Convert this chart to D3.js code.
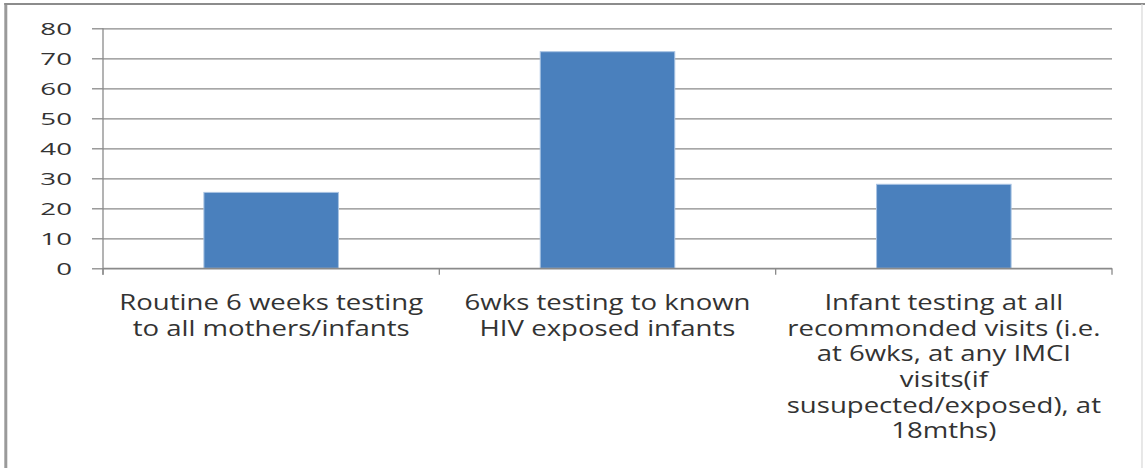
<!DOCTYPE html>
<html>
<head>
<meta charset="utf-8">
<script src="https://cdn.jsdelivr.net/npm/d3@7"></script>
<style>
  html, body { margin: 0; padding: 0; background: #fff; }
  svg { display: block; }
</style>
</head>
<body>
<script>
// ---- data ----
const categories = [
  "Routine 6 weeks testing to all mothers/infants",
  "6wks testing to known HIV exposed infants",
  "Infant testing at all recommonded visits (i.e. at 6wks, at any IMCI visits(if susupected/exposed), at 18mths)"
];
const categoryLines = [
  ["Routine 6 weeks testing", "to all mothers/infants"],
  ["6wks testing to known", "HIV exposed infants"],
  ["Infant testing at all", "recommonded visits (i.e.", "at 6wks, at any IMCI", "visits(if", "susupected/exposed), at", "18mths)"]
];
const values = [25.3, 72.2, 28];
const yTicks = [0, 10, 20, 30, 40, 50, 60, 70, 80];

// ---- layout ----
const W = 1145, H = 468;
const plot = { left: 103, right: 1112, top: 28.3, bottom: 268.3 };
const gridColor = "#8a8a8a";
const textColor = "#333333";

const svg = d3.select("body").append("svg").attr("width", W).attr("height", H);

// outer frame
svg.append("rect").attr("x", 0).attr("y", 0).attr("width", W).attr("height", H).attr("fill", "#fff");
svg.append("line").attr("x1", 5.8).attr("x2", 5.8).attr("y1", 3).attr("y2", H).attr("stroke", "#9a9a9a").attr("stroke-width", 3);
svg.append("line").attr("x1", 4.3).attr("x2", W).attr("y1", 4).attr("y2", 4).attr("stroke", "#8c8c8c").attr("stroke-width", 2);
svg.append("line").attr("x1", 1142).attr("x2", 1142).attr("y1", 4).attr("y2", H).attr("stroke", "#d8d8d8").attr("stroke-width", 1.2);

const y = d3.scaleLinear().domain([0, 80]).range([plot.bottom, plot.top]);
const x = d3.scaleBand().domain(categories).range([plot.left, plot.right])
  .paddingInner(0.6).paddingOuter(0.3);

// gridlines via axis
const gAxisY = svg.append("g").attr("transform", `translate(${plot.left},0)`)
  .call(d3.axisLeft(y).tickValues(yTicks).tickSize(11).tickFormat(d3.format("d")));
gAxisY.select(".domain").remove();
gAxisY.selectAll(".tick line").attr("stroke", gridColor).attr("stroke-width", 1.3)
  .attr("x1", 0).attr("x2", -11);
gAxisY.selectAll(".tick").append("line").attr("class", "grid")
  .attr("x1", 0).attr("x2", plot.right - plot.left)
  .attr("stroke", gridColor).attr("stroke-width", 1.3);

// tick labels (stretched horizontally)
const tickFont = 16.5;
gAxisY.selectAll(".tick text")
  .attr("font-family", "'Open Sans', sans-serif")
  .attr("font-size", tickFont)
  .attr("fill", textColor)
  .attr("x", 0).attr("dy", "0.36em");
let tickW = 1;
gAxisY.selectAll(".tick text").each(function(d) { if (d === 80) tickW = this.getComputedTextLength(); });
const tickSx = 31.7 / tickW;
gAxisY.selectAll(".tick text")
  .attr("transform", `translate(${72 - plot.left},0) scale(${tickSx},1)`);

// y axis line
svg.append("line").attr("x1", plot.left).attr("x2", plot.left)
  .attr("y1", plot.top).attr("y2", plot.bottom + 6.5)
  .attr("stroke", gridColor).attr("stroke-width", 1.3);

// bars
svg.append("g").selectAll("rect").data(values).join("rect")
  .attr("x", (d, i) => x(categories[i]))
  .attr("width", x.bandwidth())
  .attr("y", d => y(d))
  .attr("height", d => y(0) - y(d))
  .attr("fill", "#4a80bd")
  .attr("stroke", "#a9c3e3")
  .attr("stroke-width", 1);

// category boundary ticks
const step = x.step();
const bounds = d3.range(categories.length + 1).map(i => plot.left + i * step);
svg.append("g").selectAll("line").data(bounds).join("line")
  .attr("x1", d => d).attr("x2", d => d)
  .attr("y1", plot.bottom).attr("y2", plot.bottom + 6.5)
  .attr("stroke", gridColor).attr("stroke-width", 1.3);

// x axis line
svg.append("line").attr("x1", plot.left).attr("x2", plot.right)
  .attr("y1", plot.bottom).attr("y2", plot.bottom)
  .attr("stroke", gridColor).attr("stroke-width", 1.3);

// category labels
const labFont = 21;
const lineH = 25.7;
const firstBase = 310;
const labG = svg.append("g").selectAll("g").data(categoryLines).join("g")
  .attr("class", "catlab");
labG.each(function(lines, i) {
  const g = d3.select(this);
  lines.forEach((ln, j) => {
    g.append("text")
      .attr("x", 0).attr("y", firstBase + j * lineH)
      .attr("text-anchor", "middle")
      .attr("font-family", "'Open Sans', sans-serif")
      .attr("font-size", labFont)
      .attr("fill", textColor)
      .text(ln);
  });
});
const refW = labG.filter((d, i) => i === 0).select("text").node().getComputedTextLength();
const labSx = 304 / refW;
labG.attr("transform", (d, i) => `translate(${x(categories[i]) + x.bandwidth() / 2},0) scale(${labSx},1)`);
</script>
</body>
</html>
